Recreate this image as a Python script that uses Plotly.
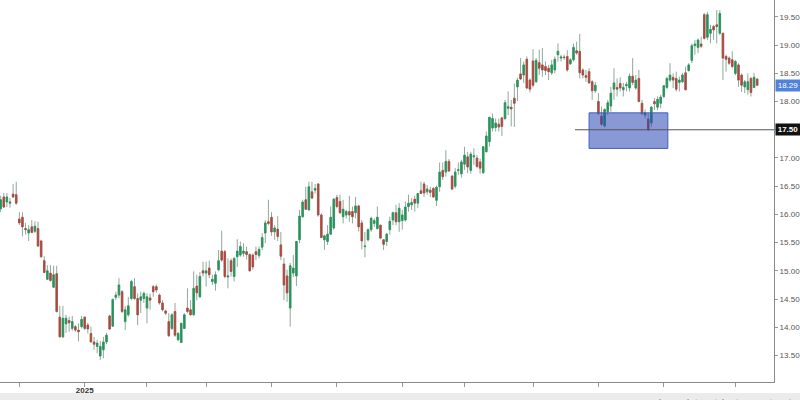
import plotly.graph_objects as go

# ---------------- data (daily OHLC) ----------------
open_ = [16.10, 16.31, 16.22, 16.20, 16.36, 16.35, 15.92, 15.95, 15.75, 15.67,
         15.78, 15.70, 15.75, 15.53, 15.18, 14.85, 14.96, 14.71, 14.95, 14.18,
         13.83, 14.06, 14.12, 13.98, 14.01, 13.95, 14.01, 14.18, 14.04, 13.89,
         13.74, 13.66, 13.49, 13.60, 13.74, 14.20, 14.02, 14.53, 14.57, 14.63,
         14.10, 14.22, 14.51, 14.72, 14.51, 14.48, 14.51, 14.34, 14.52, 14.72,
         14.72, 14.57, 14.43, 14.29, 14.10, 13.98, 14.28, 13.78, 13.73, 13.98,
         14.34, 14.31, 14.22, 14.73, 14.54, 15.00, 14.96, 15.05, 14.81, 14.78,
         15.02, 15.35, 15.34, 14.89, 15.18, 14.90, 15.25, 15.28, 15.31, 15.34,
         15.29, 15.28, 15.34, 15.27, 15.42, 15.67, 15.87, 15.95, 15.69, 15.74,
         15.46, 15.12, 14.91, 14.34, 14.96, 14.91, 15.55, 15.96, 16.26, 16.08,
         16.40, 16.43, 16.54, 15.99, 15.55, 15.52, 15.65, 15.76, 16.30, 16.23,
         15.96, 15.99, 16.05, 16.05, 16.03, 16.15, 15.85, 15.43, 15.55, 15.73,
         15.84, 15.75, 15.81, 15.55, 15.52, 15.73, 15.90, 16.03, 15.87, 15.89,
         15.90, 16.14, 16.17, 16.27, 16.20, 16.42, 16.54, 16.40, 16.43, 16.46,
         16.25, 16.49, 16.78, 16.75, 16.94, 16.68, 16.50, 16.78, 16.72, 16.89,
         17.02, 16.78, 17.02, 17.00, 16.93, 16.74, 17.11, 17.29, 17.53, 17.54,
         17.60, 17.71, 17.70, 17.88, 17.90, 18.06, 18.26, 18.49, 18.47, 18.75,
         18.38, 18.72, 18.35, 18.69, 18.65, 18.62, 18.59, 18.51, 18.56, 18.83,
         18.77, 18.79, 18.80, 18.67, 18.74, 18.90, 18.89, 18.56, 18.46, 18.53,
         18.35, 18.19, 18.00, 17.74, 17.57, 17.82, 17.92, 18.22, 18.25, 18.32,
         18.21, 18.28, 18.24, 18.45, 18.24, 18.41, 17.97, 17.76, 17.69, 17.62,
         18.00, 17.90, 17.97, 18.09, 18.25, 18.38, 18.43, 18.41, 18.34, 18.35,
         18.51, 18.55, 18.73, 18.99, 18.96, 19.02, 19.54, 19.14, 19.21, 19.33,
         19.36, 19.21, 19.21, 18.80, 18.77, 18.74, 18.50, 18.65, 18.47, 18.26,
         18.21, 18.41, 18.25, 18.40]

high = [16.33, 16.38, 16.38, 16.29, 16.54, 16.58, 16.04, 16.04, 15.85, 15.81,
        15.90, 15.88, 15.87, 15.55, 15.26, 15.10, 15.10, 15.09, 15.09, 14.38,
        14.38, 14.22, 14.19, 14.20, 14.04, 14.07, 14.20, 14.19, 14.08, 14.01,
        13.83, 13.78, 13.76, 13.83, 13.90, 14.22, 14.51, 14.63, 14.87, 14.66,
        14.38, 14.54, 14.84, 14.87, 14.60, 14.63, 14.63, 14.60, 14.60, 14.75,
        14.76, 14.60, 14.48, 14.31, 14.25, 14.25, 14.43, 13.92, 14.08, 14.25,
        14.69, 14.48, 14.99, 14.93, 14.98, 15.16, 15.16, 15.18, 14.93, 14.99,
        15.37, 15.71, 15.37, 15.22, 15.22, 15.25, 15.56, 15.52, 15.49, 15.43,
        15.31, 15.31, 15.43, 15.43, 15.67, 15.90, 16.26, 16.04, 15.81, 15.97,
        15.69, 15.23, 15.02, 15.14, 15.28, 15.53, 16.08, 16.26, 16.49, 16.58,
        16.58, 16.54, 16.55, 16.02, 15.64, 15.81, 16.14, 16.29, 16.35, 16.35,
        16.26, 16.08, 16.33, 16.14, 16.31, 16.17, 15.90, 15.69, 15.75, 15.96,
        15.93, 16.14, 15.82, 15.56, 15.67, 15.96, 16.05, 16.17, 16.20, 16.08,
        16.23, 16.35, 16.29, 16.33, 16.38, 16.58, 16.58, 16.52, 16.49, 16.49,
        16.51, 16.92, 16.92, 17.14, 16.98, 16.70, 16.82, 16.92, 16.97, 17.20,
        17.11, 17.11, 17.17, 17.05, 16.99, 17.21, 17.47, 17.73, 17.79, 17.70,
        17.70, 17.73, 18.03, 18.18, 18.03, 18.32, 18.42, 18.77, 18.71, 18.80,
        18.41, 18.93, 18.77, 18.92, 18.95, 18.71, 18.65, 18.74, 18.80, 19.03,
        18.83, 18.83, 18.91, 18.77, 19.03, 19.06, 19.20, 18.59, 18.56, 18.59,
        18.38, 18.35, 18.15, 17.91, 17.88, 18.03, 18.26, 18.59, 18.41, 18.43,
        18.33, 18.35, 18.50, 18.77, 18.47, 18.56, 18.03, 17.86, 17.79, 17.92,
        18.06, 18.09, 18.12, 18.29, 18.44, 18.68, 18.50, 18.53, 18.44, 18.51,
        18.62, 18.68, 19.03, 19.09, 19.12, 19.15, 19.57, 19.59, 19.36, 19.36,
        19.62, 19.62, 19.22, 18.83, 18.80, 18.89, 18.74, 18.68, 18.50, 18.38,
        18.50, 18.44, 18.51, 18.41]

low = [16.04, 16.12, 16.13, 16.12, 16.29, 16.17, 15.81, 15.61, 15.64, 15.53,
       15.67, 15.67, 15.42, 15.23, 14.96, 14.84, 14.81, 14.70, 14.26, 13.82,
       13.81, 13.90, 13.92, 13.94, 13.92, 13.75, 13.98, 13.95, 13.89, 13.73,
       13.60, 13.54, 13.42, 13.45, 13.70, 13.95, 14.01, 14.48, 14.51, 14.25,
       13.95, 14.19, 14.48, 14.48, 14.04, 14.25, 14.43, 14.07, 14.31, 14.54,
       14.61, 14.40, 14.28, 14.22, 13.83, 13.95, 13.83, 13.75, 13.72, 13.97,
       14.25, 14.21, 14.21, 14.48, 14.52, 14.90, 14.72, 14.87, 14.75, 14.65,
       14.99, 15.16, 14.87, 14.69, 14.90, 14.81, 15.07, 15.25, 15.25, 15.20,
       14.99, 15.02, 15.19, 15.22, 15.37, 15.49, 15.81, 15.62, 15.55, 15.53,
       15.19, 14.48, 14.45, 14.01, 14.89, 14.73, 15.49, 15.94, 16.08, 16.07,
       16.27, 16.37, 15.96, 15.58, 15.37, 15.46, 15.64, 15.73, 16.11, 16.01,
       15.84, 15.93, 15.87, 15.84, 15.93, 15.70, 15.38, 15.24, 15.52, 15.69,
       15.78, 15.73, 15.56, 15.37, 15.44, 15.64, 15.81, 15.81, 15.69, 15.73,
       15.87, 16.05, 16.08, 16.05, 16.11, 16.36, 16.31, 16.35, 16.31, 16.29,
       16.15, 16.40, 16.61, 16.67, 16.75, 16.43, 16.46, 16.70, 16.65, 16.79,
       16.73, 16.72, 16.88, 16.82, 16.72, 16.72, 17.10, 17.20, 17.47, 17.47,
       17.47, 17.39, 17.67, 17.76, 17.56, 17.55, 18.01, 18.38, 18.33, 18.22,
       18.16, 18.25, 18.34, 18.47, 18.44, 18.47, 18.38, 18.47, 18.50, 18.71,
       18.71, 18.74, 18.53, 18.65, 18.71, 18.83, 18.41, 18.41, 18.35, 18.32,
       18.03, 18.15, 17.76, 17.57, 17.54, 17.76, 17.82, 18.03, 18.09, 18.18,
       18.09, 18.18, 18.18, 18.29, 18.21, 17.99, 17.76, 17.70, 17.48, 17.55,
       17.85, 17.85, 17.88, 18.06, 18.22, 18.35, 18.24, 18.18, 18.18, 18.33,
       18.20, 18.53, 18.68, 18.83, 18.86, 18.95, 19.10, 19.09, 19.03, 19.09,
       19.03, 19.18, 18.38, 18.53, 18.65, 18.59, 18.47, 18.26, 18.17, 18.15,
       18.12, 18.09, 18.24, 18.28]

close = [16.26, 16.13, 16.31, 16.22, 16.31, 16.20, 15.85, 15.78, 15.73, 15.73,
         15.68, 15.79, 15.44, 15.25, 14.97, 15.00, 14.83, 14.93, 14.28, 13.83,
         14.16, 14.16, 14.08, 14.10, 13.95, 13.92, 14.14, 13.98, 13.97, 13.74,
         13.70, 13.72, 13.66, 13.74, 13.86, 13.97, 14.49, 14.57, 14.75, 14.28,
         14.31, 14.38, 14.81, 14.51, 14.22, 14.54, 14.60, 14.54, 14.48, 14.63,
         14.66, 14.43, 14.31, 14.25, 13.85, 14.22, 13.86, 13.89, 14.07, 14.22,
         14.28, 14.22, 14.69, 14.61, 14.90, 14.96, 15.00, 14.93, 14.85, 14.93,
         15.18, 15.19, 14.90, 14.91, 14.99, 15.22, 15.35, 15.43, 15.35, 15.29,
         15.00, 15.07, 15.29, 15.38, 15.59, 15.85, 15.84, 15.69, 15.76, 15.61,
         15.26, 14.75, 14.61, 15.09, 15.05, 15.52, 15.97, 16.22, 16.09, 16.49,
         16.29, 16.46, 15.99, 15.59, 15.62, 15.65, 15.95, 16.27, 16.14, 16.03,
         16.09, 16.05, 15.99, 15.96, 16.15, 15.78, 15.53, 15.44, 15.73, 15.93,
         15.89, 15.95, 15.58, 15.47, 15.65, 15.88, 16.03, 15.87, 16.11, 15.99,
         16.13, 16.20, 16.21, 16.20, 16.37, 16.37, 16.38, 16.45, 16.39, 16.31,
         16.48, 16.75, 16.67, 16.94, 16.77, 16.45, 16.75, 16.79, 16.93, 17.05,
         16.84, 17.07, 17.04, 16.85, 16.82, 17.20, 17.39, 17.72, 17.70, 17.62,
         17.55, 17.56, 17.98, 17.91, 17.87, 17.97, 18.38, 18.40, 18.65, 18.24,
         18.22, 18.29, 18.73, 18.59, 18.56, 18.55, 18.53, 18.65, 18.75, 18.89,
         18.79, 18.78, 18.56, 18.74, 18.96, 18.86, 18.51, 18.47, 18.43, 18.33,
         18.19, 18.29, 17.79, 17.60, 17.86, 17.98, 18.15, 18.33, 18.22, 18.24,
         18.25, 18.30, 18.45, 18.34, 18.38, 18.00, 17.79, 17.80, 17.50, 17.90,
         17.96, 18.04, 18.08, 18.28, 18.41, 18.47, 18.38, 18.22, 18.38, 18.47,
         18.21, 18.65, 18.99, 19.02, 19.09, 18.98, 19.12, 19.54, 19.28, 19.27,
         19.33, 19.56, 18.77, 18.75, 18.68, 18.62, 18.71, 18.38, 18.29, 18.35,
         18.35, 18.16, 18.43, 18.29]

# month-start sessions (trading-day index) and their labels
month_tick_idx = [6, 27, 47, 66, 87, 108, 129, 149, 171, 192, 213, 236]
month_tick_text = ["", "<b>2025</b>", "", "", "", "", "", "", "", "", "", ""]
price_ticks = [13.5, 14.0, 14.5, 15.0, 15.5, 16.0, 16.5, 17.0, 17.5, 18.0, 18.5, 19.0, 19.5]

# drawn annotations (support level and demand zone)
support_level = 17.50
support_start_idx = 184.5
zone_low, zone_high = 17.17, 17.80
zone_start_idx, zone_end_idx = 189.0, 214.3

# ---------------- styling ----------------
UP = "#23965a"
DN = "#b3453c"
WICK = "#8fa99a"
FONT = "Liberation Sans, Arial, sans-serif"

x = list(range(len(open_)))
body_hi = [max(o, c) for o, c in zip(open_, close)]
body_lo = [min(o, c) for o, c in zip(open_, close)]
x_min, x_max = -0.21, 248.4
# the axis label at the support level sits under the black price tag
price_tick_text = ["" if abs(v - support_level) < 1e-9 else "%.2f" % v for v in price_ticks]

fig = go.Figure()
# wicks (full range, grey-green)
fig.add_trace(go.Candlestick(
    x=x, open=open_, high=high, low=low, close=close,
    increasing=dict(line=dict(color=WICK, width=1), fillcolor=WICK),
    decreasing=dict(line=dict(color=WICK, width=1), fillcolor=WICK),
    whiskerwidth=0, hoverinfo="skip", showlegend=False))
# bodies (open/close only, strong colours)
fig.add_trace(go.Candlestick(
    x=x, open=open_, high=body_hi, low=body_lo, close=close,
    increasing=dict(line=dict(color=UP, width=0.6), fillcolor=UP),
    decreasing=dict(line=dict(color=DN, width=0.6), fillcolor=DN),
    whiskerwidth=0, showlegend=False))

shapes = [
    dict(type="rect", xref="x", yref="y", x0=zone_start_idx, x1=zone_end_idx,
         y0=zone_low, y1=zone_high, fillcolor="rgba(40,70,180,0.55)",
         line=dict(color="#3f5fc4", width=1), layer="above"),
    dict(type="line", xref="x", yref="y", x0=support_start_idx, x1=x_max,
         y0=support_level, y1=support_level, line=dict(color="#555555", width=1),
         layer="above"),
    # bottom toolbar strip
    dict(type="rect", xref="paper", yref="paper", x0=-0.01, x1=1.05,
         y0=-0.06, y1=-0.0290, fillcolor="#ebebeb", line=dict(width=0), layer="above"),
]

annotations = [
    dict(xref="paper", yref="y", x=1, y=close[-1], xanchor="left", yanchor="middle",
         text="%.2f" % close[-1], showarrow=False, bgcolor="#4f83d9",
         font=dict(color="white", size=8, family=FONT), width=22, borderpad=1, xshift=1),
    dict(xref="paper", yref="y", x=1, y=support_level, xanchor="left", yanchor="middle",
         text="<b>%.2f</b>" % support_level, showarrow=False, bgcolor="#111111",
         font=dict(color="white", size=8, family=FONT), width=22, borderpad=1, xshift=1),
]
toolbar = [("11:01:08 (UTC-4)", 0.847, "#666"), ("|", 0.899, "#bbb"), ("%", 0.912, "#666"),
           ("|", 0.925, "#bbb"), ("log", 0.940, "#666"), ("|", 0.952, "#bbb"),
           ("auto", 0.969, "#3b7ddd"), ("|", 0.996, "#bbb"), ("⚙", 1.021, "#666")]
for txt, px, col in toolbar:
    annotations.append(dict(xref="paper", yref="paper", x=px, y=-0.0545, text=txt,
                            showarrow=False, xanchor="center", yanchor="middle",
                            font=dict(size=9, color=col, family=FONT)))

fig.update_layout(
    width=800, height=400,
    margin=dict(l=0, r=24, t=0, b=18),
    paper_bgcolor="white", plot_bgcolor="white",
    showlegend=False,
    shapes=shapes, annotations=annotations,
    xaxis=dict(range=[x_min, x_max], rangeslider=dict(visible=False),
               tickvals=month_tick_idx, ticktext=month_tick_text,
               ticks="outside", ticklen=4, tickcolor="#999",
               ticklabelstandoff=-4,
               showgrid=False, zeroline=False, showline=True,
               linecolor="#8a8a8a", linewidth=1,
               tickfont=dict(size=8, color="#333", family=FONT)),
    yaxis=dict(side="right", range=[13.03, 19.80], tickvals=price_ticks,
               ticktext=price_tick_text, ticks="outside", ticklen=3, tickcolor="#999",
               showgrid=False, zeroline=False, showline=True,
               linecolor="#8a8a8a", linewidth=1,
               tickfont=dict(size=8, color="#555", family=FONT)),
)

fig.write_html("out.html", config={"displayModeBar": False},
               post_script="document.body.style.margin='0';document.body.style.overflow='hidden';")
